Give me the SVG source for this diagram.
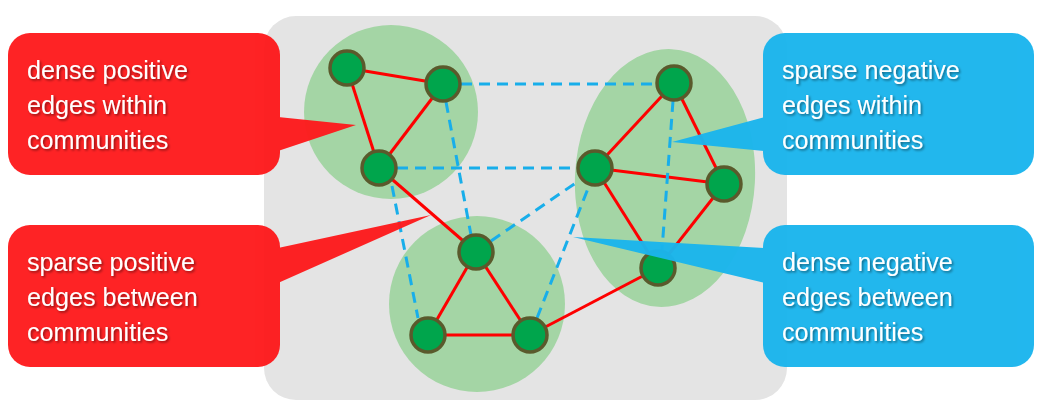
<svg xmlns="http://www.w3.org/2000/svg" width="1053" height="412" viewBox="0 0 1053 412">
<defs>
<filter id="ts" x="-10%" y="-10%" width="120%" height="130%">
<feDropShadow dx="1.5" dy="1.5" stdDeviation="0.8" flood-color="#000" flood-opacity="0.45"/>
</filter>
<style>
.comm{fill:#a4d5a5}
.pos{stroke:#fe0000;stroke-width:3;fill:none}
.neg{stroke:#18aeea;stroke-width:3;fill:none;stroke-dasharray:11 7}
.node{fill:#00a54c;stroke:#5a5a2c;stroke-width:3.5}
.red{fill:#fe1a1c;opacity:0.96}
.blue{fill:#1bb5ed;opacity:0.97}
.lbl{font-family:"Liberation Sans",Arial,sans-serif;font-size:25.2px;fill:#fff;filter:url(#ts)}
</style>
</defs>
<rect x="264" y="16" width="523" height="384" rx="32" fill="#e4e4e4"/>
<g id="communities">
<circle id="comm1" class="comm" cx="391" cy="112" r="87"/>
<ellipse id="comm2" class="comm" cx="665" cy="178" rx="90" ry="129" transform="rotate(3 665 178)"/>
<circle id="comm3" class="comm" cx="477" cy="304" r="88"/>
</g>
<g id="connectors">
<line class="pos" x1="347" y1="68" x2="443" y2="84"/>
<line class="pos" x1="347" y1="68" x2="379" y2="168"/>
<line class="pos" x1="443" y1="84" x2="379" y2="168"/>
<line class="pos" x1="379" y1="168" x2="476" y2="252"/>
<line class="pos" x1="476" y1="252" x2="428" y2="335"/>
<line class="pos" x1="476" y1="252" x2="530" y2="335"/>
<line class="pos" x1="428" y1="335" x2="530" y2="335"/>
<line class="pos" x1="530" y1="335" x2="658" y2="268"/>
<line class="pos" x1="674" y1="83" x2="595" y2="168"/>
<line class="pos" x1="674" y1="83" x2="724" y2="184"/>
<line class="pos" x1="595" y1="168" x2="724" y2="184"/>
<line class="pos" x1="595" y1="168" x2="658" y2="268"/>
<line class="pos" x1="724" y1="184" x2="658" y2="268"/>
<line class="neg" x1="461" y1="84" x2="656" y2="84"/>
<line class="neg" x1="397" y1="168" x2="577" y2="168"/>
<line class="neg" x1="446" y1="102" x2="471" y2="235"/>
<line class="neg" x1="392" y1="186" x2="418" y2="318"/>
<line class="neg" x1="491" y1="241" x2="580" y2="180"/>
<line class="neg" x1="537" y1="318" x2="589" y2="186"/>
<line class="neg" x1="673" y1="101" x2="662" y2="250"/>
</g>
<g id="nodes">
<circle id="n1" class="node" cx="347" cy="68" r="17"/>
<circle id="n2" class="node" cx="443" cy="84" r="17"/>
<circle id="n3" class="node" cx="379" cy="168" r="17"/>
<circle id="n4" class="node" cx="674" cy="83" r="17"/>
<circle id="n5" class="node" cx="595" cy="168" r="17"/>
<circle id="n6" class="node" cx="724" cy="184" r="17"/>
<circle id="n7" class="node" cx="658" cy="268" r="17"/>
<circle id="n8" class="node" cx="476" cy="252" r="17"/>
<circle id="n9" class="node" cx="428" cy="335" r="17"/>
<circle id="n10" class="node" cx="530" cy="335" r="17"/>
</g>
<g id="callout-dense-positive">
<g class="red">
<rect x="8" y="33" width="272" height="142" rx="22"/>
<polygon points="278,117 356,125 278,151"/>
</g>
<text class="lbl"><tspan x="27" y="79">dense positive</tspan><tspan x="27" y="114">edges within</tspan><tspan x="27" y="149">communities</tspan></text>
</g>
<g id="callout-sparse-positive">
<g class="red">
<rect x="8" y="225" width="272" height="142" rx="22"/>
<polygon points="278,248 431,215 278,283"/>
</g>
<text class="lbl"><tspan x="27" y="271">sparse positive</tspan><tspan x="27" y="306">edges between</tspan><tspan x="27" y="341">communities</tspan></text>
</g>
<g id="callout-sparse-negative">
<g class="blue">
<rect x="763" y="33" width="271" height="142" rx="22"/>
<polygon points="765,117 672,142 765,151"/>
</g>
<text class="lbl"><tspan x="782" y="79">sparse negative</tspan><tspan x="782" y="114">edges within</tspan><tspan x="782" y="149">communities</tspan></text>
</g>
<g id="callout-dense-negative">
<g class="blue">
<rect x="763" y="225" width="271" height="142" rx="22"/>
<polygon points="765,248 573,237 765,283"/>
</g>
<text class="lbl"><tspan x="782" y="271">dense negative</tspan><tspan x="782" y="306">edges between</tspan><tspan x="782" y="341">communities</tspan></text>
</g>
</svg>
